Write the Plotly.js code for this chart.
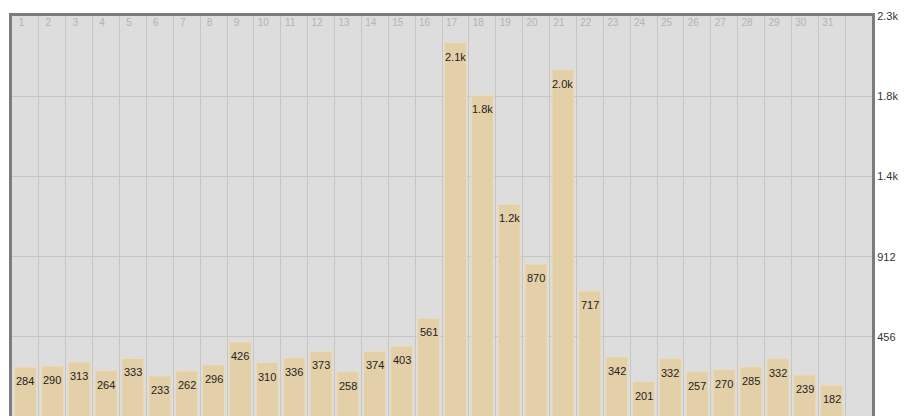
<!DOCTYPE html>
<html>
<head>
<meta charset="utf-8">
<script src="https://cdn.plot.ly/plotly-3.0.1.min.js"></script>
<style>
html,body{margin:0;padding:0;overflow:hidden;background:#fff;}
#chart{width:904px;height:417px;}
</style>
</head>
<body>
<div id="chart"></div>
<script>
// Days of the month
const days = [1,2,3,4,5,6,7,8,9,10,11,12,13,14,15,16,17,18,19,20,21,22,23,24,25,26,27,28,29,30,31];
const values = [284,290,313,264,333,233,262,296,426,310,336,373,258,374,403,561,2130,1830,1210,870,1975,717,342,201,332,257,270,285,332,239,182];
// Y-axis ticks
const yTickVals = [456,912,1368,1824,2280];
const yTickText = ['456','912','1.4k','1.8k','2.3k'];

function fmt(v){ return v >= 1000 ? (v/1000).toFixed(1) + 'k' : String(v); }

const colCount = days.length + 1; // one empty column at the right
const xBoundaries = [];
for (let i = 0; i <= colCount; i++) xBoundaries.push(i + 0.5);
const xLabelPos = days.map(d => d - 0.147);
const xLabelText = days.map(d => String(d));

const trace = {
  type: 'bar',
  x: days,
  y: values,
  width: 0.82,
  marker: {color: '#e4d0a8', line: {color: '#ebdcc0', width: 1}},
  hoverinfo: 'x+y'
};

const annotations = days.map((d, i) => ({
  x: d, y: values[i], xref: 'x', yref: 'y',
  text: fmt(values[i]), showarrow: false,
  yanchor: 'middle', xanchor: 'center', yshift: -14,
  font: {family: 'Arial, Liberation Sans, sans-serif', size: 11, color: '#222'}
}));

const layout = {
  width: 904, height: 417,
  margin: {l: 12, r: 32, t: 16, b: 0, pad: 0},
  paper_bgcolor: '#ffffff',
  plot_bgcolor: '#dddddd',
  showlegend: false,
  xaxis: {
    side: 'top',
    range: [0.5, colCount + 0.5],
    tickmode: 'array',
    tickvals: xLabelPos,
    ticktext: xLabelText,
    ticklabelposition: 'outside',
    ticklabelstandoff: -17,
    ticks: '',
    showgrid: false,
    minor: {tickmode: 'array', tickvals: xBoundaries, showgrid: true, gridcolor: '#c6c6c6', gridwidth: 1, ticks: ''},
    zeroline: false,
    showline: true, mirror: true, linecolor: '#7c7c7c', linewidth: 3,
    tickfont: {family: 'Arial, Liberation Sans, sans-serif', size: 10, color: '#b3b3b3'},
    fixedrange: true
  },
  yaxis: {
    side: 'right',
    range: [0, 2281],
    tickmode: 'array',
    tickvals: yTickVals,
    ticktext: yTickText,
    ticks: '',
    showgrid: true,
    gridcolor: '#c6c6c6',
    gridwidth: 1,
    zeroline: false,
    showline: true, mirror: true, linecolor: '#7c7c7c', linewidth: 3,
    tickfont: {family: 'Arial, Liberation Sans, sans-serif', size: 11, color: '#333'},
    fixedrange: true
  },
  annotations: annotations
};

Plotly.newPlot('chart', [trace], layout, {displayModeBar: false, staticPlot: true});
</script>
</body>
</html>
